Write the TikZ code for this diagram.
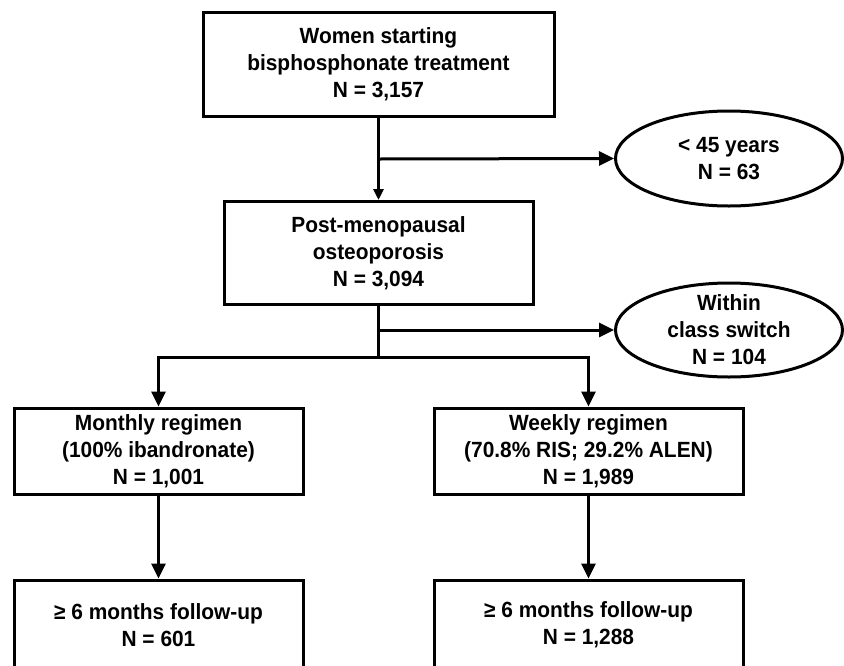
\documentclass[tikz,border=0pt]{standalone}
\usepackage{fontspec}
\setmainfont{Liberation Sans}[FakeStretch=0.95]
\usetikzlibrary{arrows.meta,shapes.geometric}
\begin{document}
\begin{tikzpicture}[x=1pt,y=-1pt,
  txt/.style={font=\fontsize{22}{27}\selectfont\bfseries, align=center, inner sep=0pt, text=black},
  box/.style={txt, draw, line width=3pt, rectangle},
  oval/.style={draw, line width=3pt, ellipse, inner sep=0pt},
  conn/.style={line width=3pt},
  arr/.style={conn, -{Triangle[width=14pt,length=15pt]}},
  arrs/.style={conn, -{Triangle[width=10pt,length=11pt]}}]
\useasboundingbox (0,0) rectangle (844,665);
\clip (0,0) rectangle (844,665);

\node[box, minimum width=351pt, minimum height=104pt] (top) at (378.5,64)
  {Women starting\\bisphosphonate treatment\\N = 3,157};
\node[box, minimum width=309pt, minimum height=103pt] (post) at (378.5,253)
  {Post-menopausal\\osteoporosis\\N = 3,094};

\node[oval, minimum width=227pt, minimum height=95pt] (ex1) at (729,158.5) {};
\node[txt] (ex1t) at (ex1.center) {< 45 years\\N = 63};
\node[oval, minimum width=227pt, minimum height=94pt] (ex2) at (729,330) {};
\node[txt] (ex2t) at (ex2.center) {Within\\class switch\\N = 104};

\node[box, minimum width=289pt, minimum height=86pt] (mon) at (158.5,451)
  {Monthly regimen\\(100\% ibandronate)\\N = 1,001};
\node[box, minimum width=309pt, minimum height=86pt] (wk) at (588.5,451)
  {Weekly regimen\\(70.8\% RIS; 29.2\% ALEN)\\N = 1,989};

\node[box, minimum width=289pt, minimum height=90pt] (m6) at (158.5,625)
  {≥ 6 months follow-up\\N = 601};
\node[box, minimum width=309pt, minimum height=90pt] (w6) at (588.5,625)
  {≥ 6 months follow-up\\N = 1,288};

\coordinate (j1) at (378.5,159);
\coordinate (j2) at (378.5,330);
\coordinate (j3) at (378.5,357);

\draw[arrs] (top.south) -- (post.north);
\draw[arr] (j1) -- (ex1.west);
\draw[conn] (post.south) -- (j3);
\draw[arr] (j2) -- (ex2.west);
\draw[arr] (j3) -| (mon.north);
\draw[arr] (j3) -| (wk.north);
\draw[arr] (mon.south) -- (m6.north);
\draw[arr] (wk.south) -- (w6.north);
\end{tikzpicture}
\end{document}
